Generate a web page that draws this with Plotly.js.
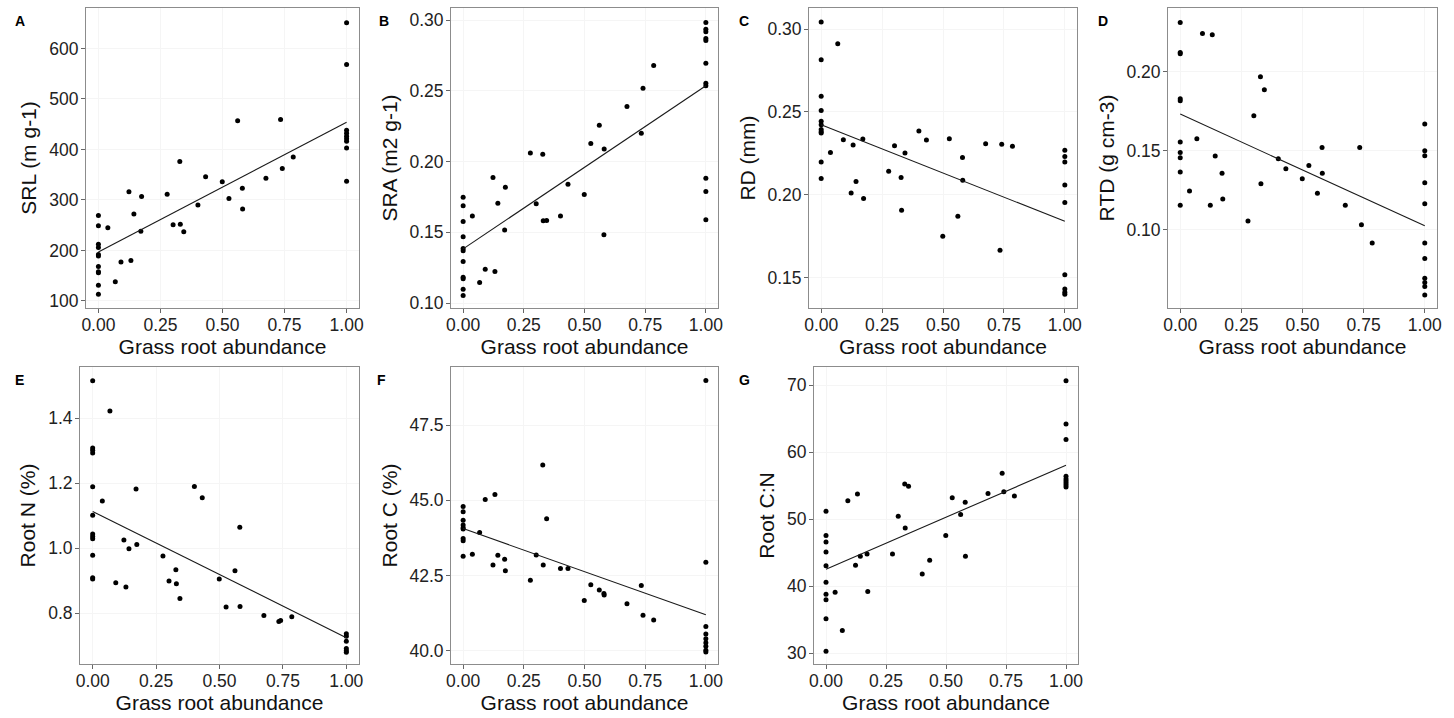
<!DOCTYPE html>
<html><head><meta charset="utf-8">
<script src="https://cdn.plot.ly/plotly-3.0.1.min.js"></script>
<style>html,body{margin:0;padding:0;background:#fff}#chart{width:1454px;height:718px}</style>
</head><body><div id="chart"></div>
<script>
// Grass root abundance of the samples that are neither 0 nor 1
const grassMid = [0.038, 0.068, 0.091, 0.123, 0.131, 0.143, 0.171, 0.174, 0.277, 0.301, 0.328, 0.330,
                  0.344, 0.401, 0.432, 0.499, 0.526, 0.561, 0.580, 0.581, 0.675, 0.734, 0.741, 0.785];
const fitX = [0, 1];
const xTicks = [0, 0.25, 0.5, 0.75, 1];
const xTickLabels = ['0.00', '0.25', '0.50', '0.75', '1.00'];

// A: SRL
const srlZero = [269, 249, 212, 206, 192, 189, 168, 158, 156, 131, 113];
const srlMid = [245, 138, 177, 316, 180, 272, 238, 307, 311, 251, 376, 252, 237, 290, 346, 336, 303, 457, 323, 282, 343, 459, 362, 385];
const srlOne = [651, 568, 438, 432, 426, 421, 416, 403, 337];
const srlFit = [197, 454];
const srlTicks = [100, 200, 300, 400, 500, 600];

// B: SRA
const sraZero = [0.1748, 0.1687, 0.1576, 0.1468, 0.1385, 0.1370, 0.1293, 0.1183, 0.1172, 0.1098, 0.1054];
const sraMid = [0.1616, 0.1145, 0.1239, 0.1887, 0.1223, 0.1706, 0.1517, 0.1819, 0.2061, 0.1701, 0.2052, 0.1581,
                0.1583, 0.1616, 0.1840, 0.1767, 0.2127, 0.2257, 0.1482, 0.2089, 0.2389, 0.2200, 0.2518, 0.2678];
const sraOne = [0.2982, 0.2935, 0.2918, 0.2869, 0.2855, 0.2695, 0.2553, 0.2535, 0.1882, 0.1788, 0.1588];
const sraFit = [0.1383, 0.2535];
const sraTicks = [0.10, 0.15, 0.20, 0.25, 0.30];

// C: RD
const rdZero = [0.3043, 0.2815, 0.2594, 0.2509, 0.2443, 0.2423, 0.2393, 0.2380, 0.2372, 0.2197, 0.2097];
const rdMid = [0.2254, 0.2912, 0.2332, 0.2010, 0.2300, 0.2079, 0.2336, 0.1976, 0.2141, 0.2296, 0.2103, 0.1905,
               0.2252, 0.2384, 0.2330, 0.1748, 0.2338, 0.1869, 0.2225, 0.2087, 0.2308, 0.1664, 0.2304, 0.2292];
const rdOne = [0.2268, 0.2231, 0.2197, 0.2058, 0.1952, 0.1516, 0.1430, 0.1410, 0.1398];
const rdFit = [0.2423, 0.1839];
const rdTicks = [0.15, 0.20, 0.25, 0.30];

// D: RTD
const rtdZero = [0.2312, 0.2122, 0.2114, 0.1829, 0.1817, 0.1555, 0.1489, 0.1456, 0.1365, 0.1154];
const rtdMid = [0.1245, 0.1576, 0.2243, 0.1154, 0.2234, 0.1466, 0.1357, 0.1194, 0.1055, 0.1722, 0.1968, 0.1291,
                0.1886, 0.1449, 0.1386, 0.1323, 0.1407, 0.1230, 0.1521, 0.1357, 0.1154, 0.1521, 0.1032, 0.0916];
const rtdOne = [0.1669, 0.1500, 0.1468, 0.1297, 0.1165, 0.0916, 0.0818, 0.0693, 0.0665, 0.0640, 0.0587];
const rtdFit = [0.1732, 0.1025];
const rtdTicks = [0.10, 0.15, 0.20];

// E: Root N
const nZero = [1.515, 1.308, 1.301, 1.293, 1.189, 1.101, 1.044, 1.036, 1.029, 0.978, 0.909, 0.905];
const nMid = [1.145, 1.422, 0.894, 1.025, 0.881, 0.998, 1.182, 1.011, 0.976, 0.899, 0.934, 0.891,
              0.845, 1.190, 1.155, 0.905, 0.819, 0.931, 1.064, 0.821, 0.793, 0.775, 0.778, 0.789];
const nOne = [0.737, 0.729, 0.714, 0.692, 0.685, 0.680];
const nFit = [1.113, 0.725];
const nTicks = [0.8, 1.0, 1.2, 1.4];

// F: Root C
const cZero = [44.79, 44.62, 44.34, 44.18, 44.09, 44.05, 43.73, 43.66, 43.14];
const cMid = [43.21, 43.93, 45.03, 42.85, 45.19, 43.17, 43.04, 42.66, 42.34, 43.18, 46.17, 42.85,
              44.39, 42.73, 42.73, 41.67, 42.19, 42.02, 41.90, 41.85, 41.56, 42.17, 41.18, 41.02];
const cOne = [48.98, 42.94, 40.81, 40.56, 40.40, 40.27, 40.15, 40.02, 39.96];
const cFit = [44.06, 41.20];
const cTicks = [40.0, 42.5, 45.0, 47.5];

// G: Root C:N
const cnZero = [51.18, 47.58, 46.60, 45.12, 43.05, 40.58, 38.80, 37.97, 35.15, 30.32];
const cnMid = [39.10, 33.38, 52.76, 43.14, 53.75, 44.48, 44.82, 39.20, 44.82, 50.44, 55.23, 48.67,
               54.93, 41.81, 43.88, 47.58, 53.21, 50.69, 52.52, 44.48, 53.85, 56.86, 54.09, 53.45];
const cnOne = [70.66, 64.20, 61.89, 56.4, 56.0, 55.7, 55.4, 55.1, 54.8];
const cnFit = [42.55, 58.04];
const cnTicks = [30, 40, 50, 60, 70];

const W = 1454, H = 718;
const px = v => v / W, py = v => 1 - v / H;

const panels = [
  {tag: 'A', title: 'SRL (m g-1)', zero: srlZero, mid: srlMid, one: srlOne, fit: srlFit, ticks: srlTicks, fmt: 'd',
   range: [86, 680], x0: 86, x1: 359, row: 0, lx: 13},
  {tag: 'B', title: 'SRA (m2 g-1)', zero: sraZero, mid: sraMid, one: sraOne, fit: sraFit, ticks: sraTicks, fmt: '.2f',
   range: [0.0965, 0.3085], x0: 451, x1: 718, row: 0, lx: 377},
  {tag: 'C', title: 'RD (mm)', zero: rdZero, mid: rdMid, one: rdOne, fit: rdFit, ticks: rdTicks, fmt: '.2f',
   range: [0.1315, 0.3128], x0: 809, x1: 1077, row: 0, lx: 737},
  {tag: 'D', title: 'RTD (g cm-3)', zero: rtdZero, mid: rtdMid, one: rtdOne, fit: rtdFit, ticks: rtdTicks, fmt: '.2f',
   range: [0.0504, 0.2404], x0: 1168, x1: 1437, row: 0, lx: 1096},
  {tag: 'E', title: 'Root N (%)', zero: nZero, mid: nMid, one: nOne, fit: nFit, ticks: nTicks, fmt: '.1f',
   range: [0.644, 1.557], x0: 80, x1: 359, row: 1, lx: 13},
  {tag: 'F', title: 'Root C (%)', zero: cZero, mid: cMid, one: cOne, fit: cFit, ticks: cTicks, fmt: '.1f',
   range: [39.56, 49.43], x0: 451, x1: 718, row: 1, lx: 375},
  {tag: 'G', title: 'Root C:N', zero: cnZero, mid: cnMid, one: cnOne, fit: cnFit, ticks: cnTicks, fmt: 'd',
   range: [28.4, 72.7], x0: 814, x1: 1078, row: 1, lx: 737}
];

const rows = [{top: 8, bottom: 308}, {top: 367, bottom: 664}];
const FONT = 'Liberation Sans, Arial, Helvetica, sans-serif';

const traces = [];
const layout = {
  width: W, height: H, margin: {l: 0, r: 0, t: 0, b: 0},
  paper_bgcolor: '#ffffff', plot_bgcolor: '#ffffff', showlegend: false,
  font: {family: FONT, color: '#222'}, annotations: []
};

panels.forEach((p, i) => {
  const n = i === 0 ? '' : String(i + 1);
  const xa = 'x' + n, ya = 'y' + n;
  const xs = p.zero.map(() => 0).concat(grassMid, p.one.map(() => 1));
  const ys = p.zero.concat(p.mid, p.one);
  traces.push({type: 'scatter', mode: 'markers', x: xs, y: ys, xaxis: xa, yaxis: ya,
    marker: {color: '#000', size: 5}, hoverinfo: 'x+y'});
  traces.push({type: 'scatter', mode: 'lines', x: fitX, y: p.fit, xaxis: xa, yaxis: ya,
    line: {color: '#1a1a1a', width: 1.1}, hoverinfo: 'skip'});
  const r = rows[p.row];
  const common = {
    showline: true, mirror: true, linecolor: '#8c8c8c', linewidth: 1,
    ticks: 'outside', ticklen: 4, tickwidth: 1, tickcolor: '#666',
    zeroline: false, showgrid: true, gridcolor: '#f5f5f5', gridwidth: 1,
    tickfont: {family: FONT, size: 17.5, color: '#222'}, ticklabelstandoff: -3
  };
  layout['xaxis' + n] = Object.assign({}, common, {
    domain: [px(p.x0), px(p.x1)], range: [-0.05, 1.05], anchor: ya,
    tickvals: xTicks, ticktext: xTickLabels,
    title: {text: 'Grass root abundance', font: {family: FONT, size: 21, color: '#111'}, standoff: 2}
  });
  layout['yaxis' + n] = Object.assign({}, common, {
    domain: [py(r.bottom), py(r.top)], range: p.range, anchor: xa,
    tickvals: p.ticks, tickformat: p.fmt, ticklabelstandoff: -1,
    title: {text: p.title, font: {family: FONT, size: 21, color: '#111'}, standoff: 6}
  });
  layout.annotations.push({text: '<b>' + p.tag + '</b>', xref: 'paper', yref: 'paper',
    x: px(p.lx), y: py(r.top + 3), xanchor: 'left', yanchor: 'top', showarrow: false,
    font: {family: FONT, size: 14, color: '#000'}});
});

Plotly.newPlot('chart', traces, layout, {displayModeBar: false, staticPlot: true});
</script></body></html>
